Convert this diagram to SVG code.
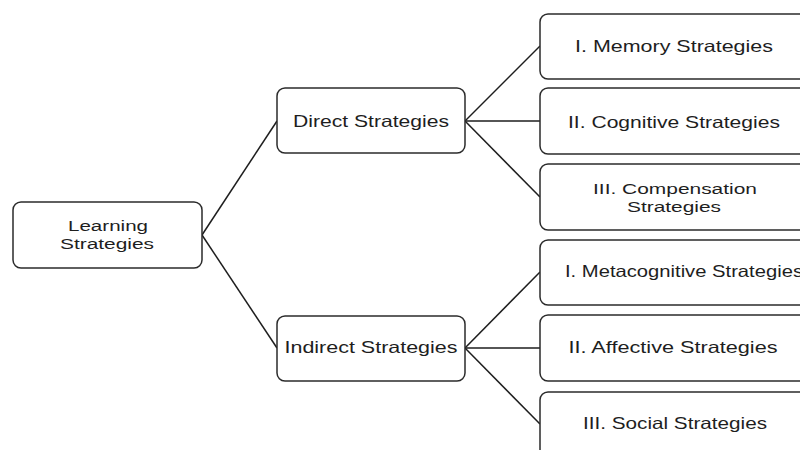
<svg xmlns="http://www.w3.org/2000/svg" width="800" height="450" viewBox="0 0 800 450">
<style>
.box{fill:#fff;stroke:#2b2b2b;stroke-width:1.5}
.lbl{font-family:"Liberation Sans",Arial,sans-serif;font-size:16.5px;fill:#1e1e1e;text-anchor:middle}
.two{font-size:15.5px}
.con{stroke:#1e1e1e;stroke-width:1.5;fill:none}
</style>
<rect width="800" height="450" fill="#fff"/>
<g id="connectors">
<line class="con" x1="202" y1="235" x2="277" y2="121"/>
<line class="con" x1="202" y1="235" x2="277" y2="348"/>
<line class="con" x1="465" y1="121" x2="540" y2="46"/>
<line class="con" x1="465" y1="121" x2="540" y2="121"/>
<line class="con" x1="465" y1="121" x2="540" y2="197"/>
<line class="con" x1="465" y1="348" x2="540" y2="272"/>
<line class="con" x1="465" y1="348" x2="540" y2="348"/>
<line class="con" x1="465" y1="348" x2="540" y2="424"/>
</g>
<g id="learning">
<rect class="box" x="13" y="202" width="189" height="66" rx="8"/>
<text class="lbl two" x="108" y="231" textLength="80" lengthAdjust="spacingAndGlyphs">Learning</text>
<text class="lbl two" x="107" y="249" textLength="94" lengthAdjust="spacingAndGlyphs">Strategies</text>
</g>
<g id="direct">
<rect class="box" x="277" y="88" width="188" height="65" rx="8"/>
<text class="lbl" x="371" y="127" textLength="156" lengthAdjust="spacingAndGlyphs">Direct Strategies</text>
</g>
<g id="indirect">
<rect class="box" x="277" y="316" width="188" height="65" rx="8"/>
<text class="lbl" x="371" y="353" textLength="173" lengthAdjust="spacingAndGlyphs">Indirect Strategies</text>
</g>
<g id="memory">
<rect class="box" x="540" y="14" width="270" height="65" rx="8"/>
<text class="lbl" x="674" y="52" textLength="198" lengthAdjust="spacingAndGlyphs">I. Memory Strategies</text>
</g>
<g id="cognitive">
<rect class="box" x="540" y="88" width="270" height="66" rx="8"/>
<text class="lbl" x="674" y="128" textLength="212" lengthAdjust="spacingAndGlyphs">II. Cognitive Strategies</text>
</g>
<g id="compensation">
<rect class="box" x="540" y="164" width="270" height="66" rx="8"/>
<text class="lbl two" x="675" y="194" textLength="164" lengthAdjust="spacingAndGlyphs">III. Compensation</text>
<text class="lbl two" x="674" y="212" textLength="94" lengthAdjust="spacingAndGlyphs">Strategies</text>
</g>
<g id="metacognitive">
<rect class="box" x="540" y="240" width="270" height="65" rx="8"/>
<text class="lbl" x="684" y="277" textLength="238" lengthAdjust="spacingAndGlyphs">I. Metacognitive Strategies</text>
</g>
<g id="affective">
<rect class="box" x="540" y="315" width="270" height="66" rx="8"/>
<text class="lbl" x="673" y="353" textLength="209" lengthAdjust="spacingAndGlyphs">II. Affective Strategies</text>
</g>
<g id="social">
<rect class="box" x="540" y="392" width="270" height="66" rx="8"/>
<text class="lbl" x="675" y="429" textLength="184" lengthAdjust="spacingAndGlyphs">III. Social Strategies</text>
</g>
</svg>
